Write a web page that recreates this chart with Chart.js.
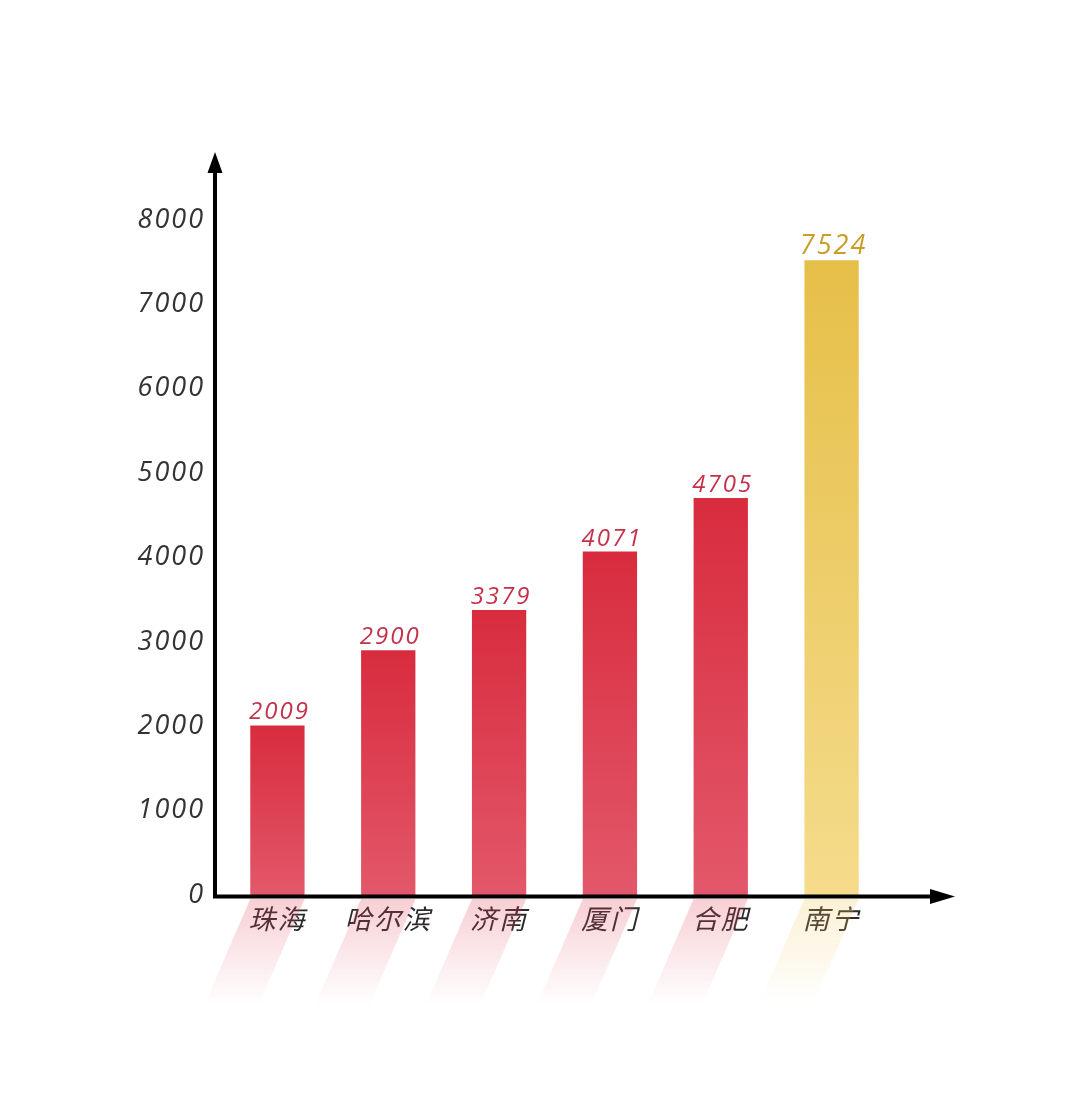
<!DOCTYPE html>
<html>
<head>
<meta charset="utf-8">
<script src="https://cdn.jsdelivr.net/npm/chart.js@4"></script>
<style>
  html, body { margin: 0; padding: 0; background: #fff; }
  #wrap { width: 1080px; height: 1108px; position: relative; }
</style>
</head>
<body>
<div id="wrap"><canvas id="bar-chart"></canvas></div>
<script>
// data
const cities = ['珠海', '哈尔滨', '济南', '厦门', '合肥', '南宁'];
const values = [2009, 2900, 3379, 4071, 4705, 7524];
const highlight = [false, false, false, false, false, true];
const yTicks = [0, 1000, 2000, 3000, 4000, 5000, 6000, 7000, 8000];

const FONT = "'Open Sans', 'Noto Sans CJK SC', sans-serif";
const red = { top: 'rgb(216,44,62)', bottom: 'rgb(226,88,106)', text: 'rgb(196,50,74)', shade: '224,70,90' };
const gold = { top: 'rgb(230,191,72)', bottom: 'rgb(245,220,140)', text: 'rgb(200,158,36)', shade: '238,200,90' };

function barColor(ctx) {
	const chart = ctx.chart;
	if (!chart.chartArea || !chart.scales.y) return red.top;
	const c = highlight[ctx.dataIndex] ? gold : red;
	const y = chart.scales.y;
	const top = y.getPixelForValue(values[ctx.dataIndex]);
	const bot = y.getPixelForValue(0);
	const g = chart.ctx.createLinearGradient(0, top, 0, bot);
	g.addColorStop(0, c.top);
	g.addColorStop(1, c.bottom);
	return g;
}

// spacing between letters, like the picture
const spacing = {
	id: 'spacing',
	beforeUpdate(chart) { chart.ctx.letterSpacing = '2px'; },
	beforeDraw(chart) { chart.ctx.letterSpacing = '2px'; }
};

// slanted fading stripes under the bars
const stripes = {
	id: 'stripes',
	beforeDatasetsDraw(chart) {
		const ctx = chart.ctx;
		const meta = chart.getDatasetMeta(0);
		const y0 = chart.scales.y.getPixelForValue(0) + 4;
		const h = 106, shift = 46;
		meta.data.forEach(function (bar, i) {
			const c = highlight[i] ? gold : red;
			const l = bar.x - bar.width / 2, r = bar.x + bar.width / 2;
			const g = ctx.createLinearGradient(0, y0, 0, y0 + h);
			g.addColorStop(0, 'rgba(' + c.shade + ',0.26)');
			g.addColorStop(1, 'rgba(' + c.shade + ',0)');
			ctx.save();
			ctx.fillStyle = g;
			ctx.beginPath();
			ctx.moveTo(l, y0);
			ctx.lineTo(r, y0);
			ctx.lineTo(r - shift, y0 + h);
			ctx.lineTo(l - shift, y0 + h);
			ctx.closePath();
			ctx.fill();
			ctx.restore();
		});
	}
};

// axes with arrows + value labels
const arrows = {
	id: 'arrows',
	afterDatasetsDraw(chart) {
		const ctx = chart.ctx;
		const ax = chart.chartArea.left - 7;
		const ay = chart.scales.y.getPixelForValue(0) + 1.5;
		ctx.save();
		ctx.strokeStyle = '#000';
		ctx.fillStyle = '#000';
		ctx.lineWidth = 4;
		ctx.beginPath();
		ctx.moveTo(ax, ay + 2);
		ctx.lineTo(ax, 168);
		ctx.moveTo(ax - 2, ay);
		ctx.lineTo(935, ay);
		ctx.stroke();
		ctx.beginPath();
		ctx.moveTo(ax, 152);
		ctx.lineTo(ax - 7.5, 173);
		ctx.lineTo(ax + 7.5, 173);
		ctx.closePath();
		ctx.fill();
		ctx.beginPath();
		ctx.moveTo(955, ay);
		ctx.lineTo(930, ay - 7.5);
		ctx.lineTo(930, ay + 7.5);
		ctx.closePath();
		ctx.fill();

		const meta = chart.getDatasetMeta(0);
		ctx.textAlign = 'center';
		ctx.textBaseline = 'alphabetic';
		meta.data.forEach(function (bar, i) {
			const c = highlight[i] ? gold : red;
			ctx.fillStyle = c.text;
			ctx.font = 'italic ' + (highlight[i] ? 27 : 24) + 'px ' + FONT;
			ctx.fillText(String(values[i]), bar.x + 2, bar.y - 6);
		});
		ctx.restore();
	}
};

new Chart(document.getElementById('bar-chart'), {
	type: 'bar',
	data: {
		labels: cities,
		datasets: [{
			data: values,
			backgroundColor: barColor,
			borderWidth: 0,
			categoryPercentage: 1,
			barPercentage: 0.49
		}]
	},
	options: {
		responsive: true,
		maintainAspectRatio: false,
		animation: false,
		layout: { padding: { top: 220, right: 193, left: 0, bottom: 0 } },
		plugins: { legend: { display: false }, tooltip: { enabled: false } },
		scales: {
			x: {
				grid: { display: false, drawTicks: false },
				border: { display: false },
				ticks: {
					padding: 8,
					color: '#2e2a2c',
					font: { family: "'Noto Sans CJK SC', sans-serif", size: 27, style: 'italic' }
				},
				afterFit(scale) { scale.height = 213; }
			},
			y: {
				min: 0,
				max: 8000,
				grid: { display: false, drawTicks: false },
				border: { display: false },
				afterBuildTicks(scale) { scale.ticks = yTicks.map(v => ({ value: v })); },
				ticks: {
					padding: 17,
					color: '#333',
					font: { family: FONT, size: 27, style: 'italic' },
					callback: v => String(v)
				},
				afterFit(scale) { scale.width = 222; }
			}
		}
	},
	plugins: [spacing, stripes, arrows]
});
</script>
</body>
</html>
